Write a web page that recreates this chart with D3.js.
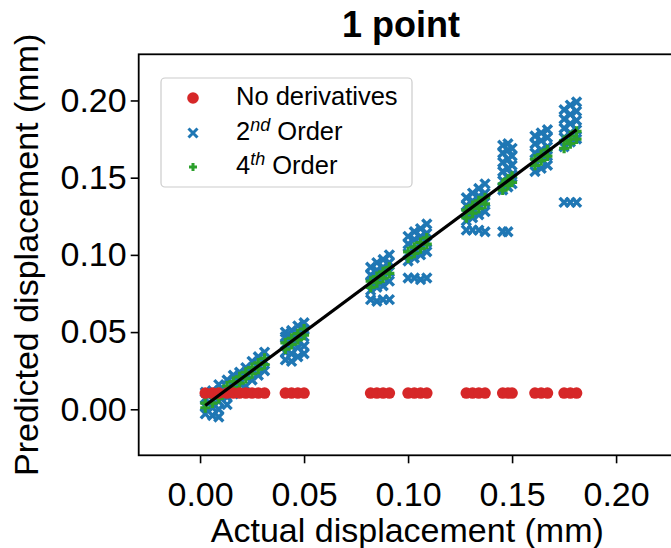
<!DOCTYPE html>
<html lang="en">
<head>
<meta charset="utf-8">
<script src="https://cdn.jsdelivr.net/npm/d3@7"></script>
<style>
  body { margin: 0; background: #fff; }
  text { font-family: "Liberation Sans", Arial, Helvetica, sans-serif; fill: #000; }
</style>
</head>
<body>
<div id="chart"></div>
<script>
// actual displacement (mm), one entry per sample position
var actual = [
  0.0025, 0.006, 0.009, 0.013, 0.016, 0.019, 0.022, 0.025, 0.028, 0.031,
  0.041, 0.044, 0.047, 0.050,
  0.082, 0.085, 0.088, 0.091,
  0.100, 0.103, 0.106, 0.109,
  0.128, 0.131, 0.134, 0.137,
  0.1455, 0.148, 0.150,
  0.161, 0.164, 0.167,
  0.175, 0.178, 0.181
];

// predicted displacement, no derivatives (flat)
var noDerivatives = [
  0.0105, 0.0105, 0.0105, 0.0105, 0.0105, 0.0105, 0.0105, 0.0105, 0.0105, 0.0105,
  0.0105, 0.0105, 0.0105, 0.0105,
  0.0105, 0.0105, 0.0105, 0.0105,
  0.0105, 0.0105, 0.0105, 0.0105,
  0.0105, 0.0105, 0.0105, 0.0105,
  0.0105, 0.0105, 0.0105,
  0.0105, 0.0105, 0.0105,
  0.0105, 0.0105, 0.0105
];

// predicted displacement, 2nd order (several points per position)
var secondOrder = [
  [-0.003, 0.002, 0.007, 0.011], [-0.004, 0.001, 0.006, 0.012], [-0.005, 0.000, 0.005, 0.011, 0.016],
  [0.003, 0.008, 0.013, 0.019], [0.010, 0.016, 0.022], [0.011, 0.017, 0.024],
  [0.015, 0.021, 0.027], [0.019, 0.025, 0.031], [0.022, 0.028, 0.034], [0.025, 0.031, 0.037],
  [0.032, 0.037, 0.042, 0.047, 0.050], [0.031, 0.036, 0.041, 0.046, 0.051],
  [0.034, 0.040, 0.045, 0.050, 0.054], [0.036, 0.041, 0.047, 0.052, 0.056],
  [0.071, 0.077, 0.082, 0.087, 0.092], [0.070, 0.079, 0.085, 0.090, 0.095],
  [0.071, 0.080, 0.086, 0.092, 0.097], [0.071, 0.083, 0.089, 0.095, 0.100],
  [0.085, 0.096, 0.101, 0.107, 0.112], [0.085, 0.098, 0.104, 0.110, 0.115],
  [0.084, 0.100, 0.106, 0.112, 0.117], [0.085, 0.102, 0.108, 0.114, 0.120],
  [0.116, 0.122, 0.127, 0.132, 0.137], [0.116, 0.124, 0.130, 0.135, 0.140],
  [0.116, 0.126, 0.132, 0.138, 0.143], [0.115, 0.128, 0.134, 0.140, 0.146],
  [0.115, 0.142, 0.148, 0.154, 0.160, 0.166, 0.171], [0.115, 0.144, 0.150, 0.156, 0.162, 0.168, 0.172],
  [0.146, 0.152, 0.158, 0.164, 0.169],
  [0.154, 0.160, 0.166, 0.172, 0.177], [0.156, 0.162, 0.168, 0.174, 0.179], [0.158, 0.164, 0.170, 0.176, 0.181],
  [0.134, 0.170, 0.176, 0.182, 0.188, 0.194], [0.134, 0.173, 0.179, 0.185, 0.191, 0.197],
  [0.134, 0.175, 0.181, 0.187, 0.193, 0.199]
];

// predicted displacement, 4th order
var fourthOrder = [
  [0.001, 0.004], [0.004, 0.008], [0.007, 0.011], [0.011, 0.015], [0.014, 0.018],
  [0.017, 0.021], [0.020, 0.024], [0.023, 0.027], [0.026, 0.030], [0.029, 0.033],
  [0.039, 0.043], [0.042, 0.046], [0.045, 0.049], [0.048, 0.052],
  [0.079, 0.083], [0.082, 0.086], [0.085, 0.089], [0.088, 0.092],
  [0.098, 0.102], [0.101, 0.105], [0.104, 0.108], [0.107, 0.111],
  [0.124, 0.129], [0.127, 0.132], [0.130, 0.135], [0.133, 0.137],
  [0.142, 0.146], [0.145, 0.149], [0.147, 0.151],
  [0.158, 0.162], [0.161, 0.165], [0.164, 0.168],
  [0.169, 0.174], [0.172, 0.177], [0.175, 0.180]
];

var ticks = [0.00, 0.05, 0.10, 0.15, 0.20];
var legendLabels = ["No derivatives", "2nd Order", "4th Order"];
var colors = ["#d62728", "#1f77b4", "#2ca02c"];

var width = 671, height = 548;
var plot = { left: 138.7, top: 54.3, right: 676, bottom: 455.3 };

var svg = d3.select("#chart").append("svg")
  .attr("width", width)
  .attr("height", height);

var x = d3.scaleLinear().domain([-0.0295, 0.2288]).range([plot.left, plot.right]);
var y = d3.scaleLinear().domain([-0.0298, 0.2299]).range([plot.bottom, plot.top]);

// flatten grouped series into points
function flatten(groups) {
  var pts = [];
  groups.forEach(function(ys, i) {
    ys.forEach(function(v) { pts.push([actual[i], v]); });
  });
  return pts;
}

var g = svg.append("g");

var crossPath = "M-4.5,-4.5L4.5,4.5M-4.5,4.5L4.5,-4.5";
var plusPath = "M-5,0H5M0,-5V5";

g.selectAll(".second").data(flatten(secondOrder)).enter().append("path")
  .attr("class", "second")
  .attr("d", crossPath)
  .attr("transform", function(d) { return "translate(" + x(d[0]) + "," + y(d[1]) + ")"; })
  .style("stroke", colors[1])
  .style("stroke-width", 3.4)
  .style("fill", "none");

g.selectAll(".fourth").data(flatten(fourthOrder)).enter().append("path")
  .attr("class", "fourth")
  .attr("d", plusPath)
  .attr("transform", function(d) { return "translate(" + x(d[0]) + "," + y(d[1]) + ")"; })
  .style("stroke", colors[2])
  .style("stroke-width", 3.2)
  .style("fill", "none");

g.selectAll(".none").data(actual).enter().append("circle")
  .attr("class", "none")
  .attr("cx", function(d) { return x(d); })
  .attr("cy", function(d, i) { return y(noDerivatives[i]); })
  .attr("r", 5.8)
  .style("fill", colors[0]);

// ideal line: predicted = actual
var ext = d3.extent(actual);
g.append("line")
  .attr("x1", x(ext[0])).attr("y1", y(ext[0]))
  .attr("x2", x(ext[1])).attr("y2", y(ext[1]))
  .style("stroke", "#000")
  .style("stroke-width", 3.2);

// frame
svg.append("rect")
  .attr("x", plot.left).attr("y", plot.top)
  .attr("width", plot.right - plot.left).attr("height", plot.bottom - plot.top)
  .style("fill", "none").style("stroke", "#000").style("stroke-width", 1.8);

// axes
var xAxis = d3.axisBottom(x).tickValues(ticks).tickFormat(d3.format(".2f")).tickSize(8).tickPadding(19);
var yAxis = d3.axisLeft(y).tickValues(ticks).tickFormat(d3.format(".2f")).tickSize(8).tickPadding(4);

var xg = svg.append("g").attr("transform", "translate(0," + plot.bottom + ")").call(xAxis);
var yg = svg.append("g").attr("transform", "translate(" + plot.left + ",0)").call(yAxis);
[xg, yg].forEach(function(a) {
  a.select(".domain").remove();
  a.selectAll("line").style("stroke", "#000").style("stroke-width", 1.6);
  a.selectAll("text").style("font-size", "34px").style("fill", "#000")
    .style("font-family", "'Liberation Sans', Arial, sans-serif");
});

// labels
svg.append("text")
  .attr("x", 401).attr("y", 37)
  .attr("text-anchor", "middle")
  .style("font-size", "36px").style("font-weight", "bold")
  .text("1 point");

svg.append("text")
  .attr("x", (plot.left + plot.right) / 2).attr("y", 542)
  .attr("text-anchor", "middle")
  .style("font-size", "34px")
  .text("Actual displacement (mm)");

svg.append("text")
  .attr("transform", "translate(38," + (plot.top + plot.bottom) / 2 + ") rotate(-90)")
  .attr("text-anchor", "middle")
  .style("font-size", "34px")
  .text("Predicted displacement (mm)");

// legend
var lg = svg.append("g");
lg.append("rect")
  .attr("x", 161).attr("y", 78).attr("width", 251).attr("height", 109)
  .attr("rx", 4)
  .style("fill", "#fff").style("fill-opacity", 0.8)
  .style("stroke", "#cccccc").style("stroke-width", 1.2);

var rowY = [98, 133, 167];
lg.append("circle").attr("cx", 193).attr("cy", rowY[0]).attr("r", 5.8).style("fill", colors[0]);
lg.append("path").attr("d", crossPath).attr("transform", "translate(193," + rowY[1] + ")")
  .style("stroke", colors[1]).style("stroke-width", 3).style("fill", "none");
lg.append("path").attr("d", "M-4,0H4M0,-4V4").attr("transform", "translate(193," + rowY[2] + ")")
  .style("stroke", colors[2]).style("stroke-width", 3).style("fill", "none");

legendLabels.forEach(function(lab, i) {
  var t = lg.append("text").attr("x", 236).attr("y", rowY[i] + 6.5).style("font-size", "25.5px");
  if (i === 0) {
    t.text(lab);
  } else {
    var parts = lab.split(" ");
    var num = parts[0].charAt(0), sup = parts[0].slice(1);
    t.append("tspan").text(num);
    t.append("tspan").attr("dy", -9).style("font-size", "18px").style("font-style", "italic").text(sup);
    t.append("tspan").attr("dy", 9).text(" " + parts[1]);
  }
});
</script>
</body>
</html>
